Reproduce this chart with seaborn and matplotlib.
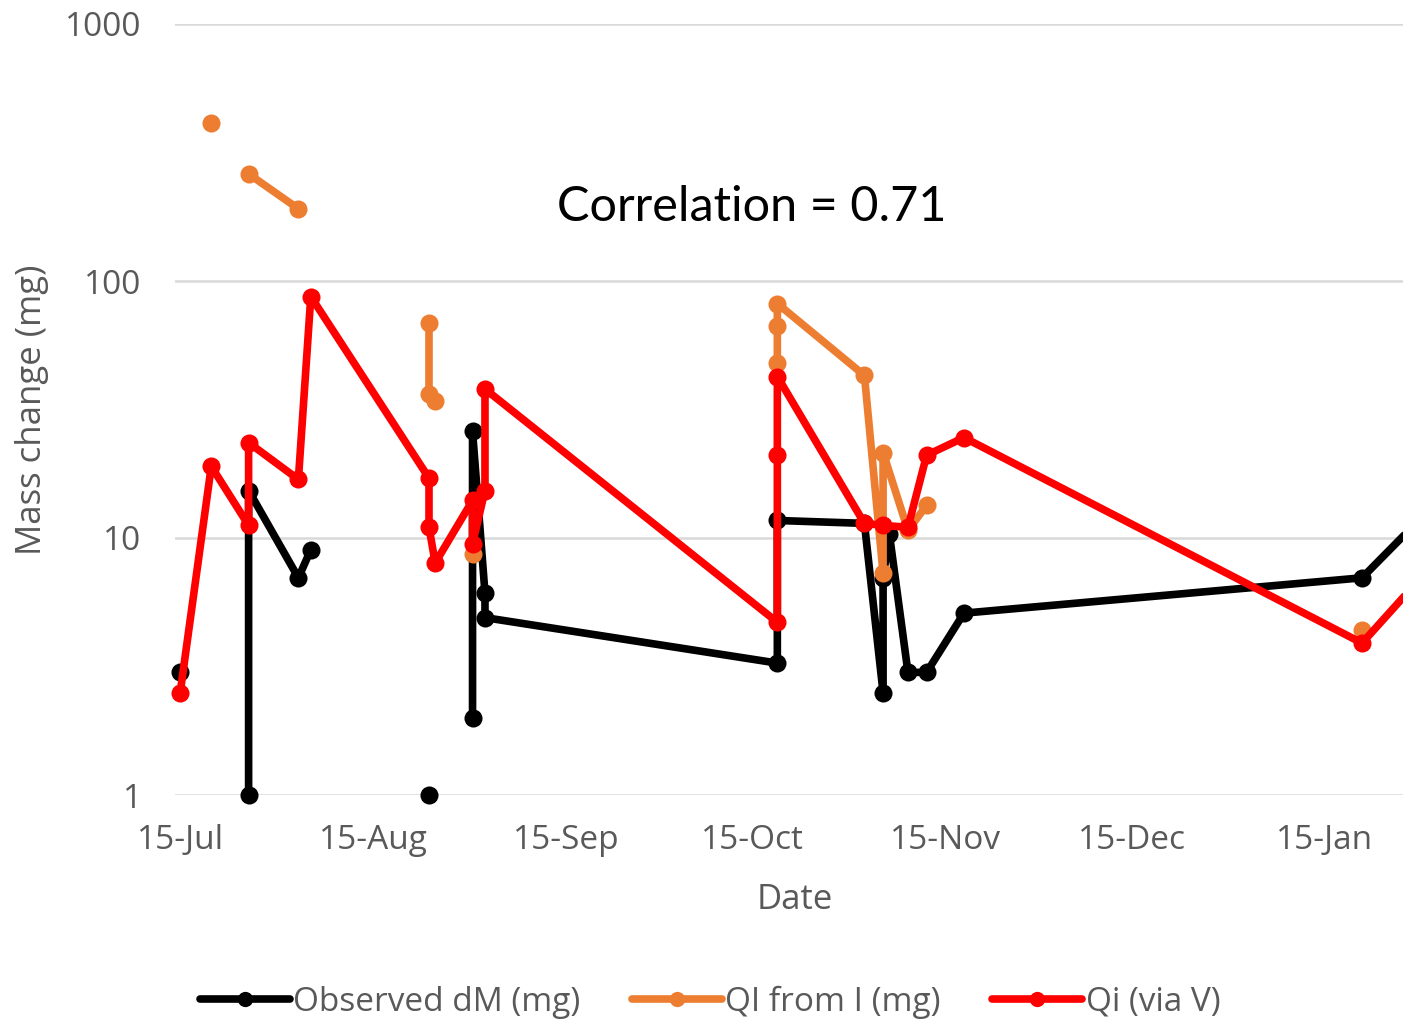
import pandas as pd
import seaborn as sns
import matplotlib.pyplot as plt
import matplotlib.dates as mdates
from matplotlib.lines import Line2D

# Observed dM (mg) - segment id splits the line where Excel left gaps
obs_dates = ['2018-07-15', '2018-07-26', '2018-07-26', '2018-08-03', '2018-08-05',
             '2018-08-24',
             '2018-08-31', '2018-08-31', '2018-09-02', '2018-09-02', '2018-10-19', '2018-10-19',
             '2018-11-02', '2018-11-05', '2018-11-05', '2018-11-06', '2018-11-09', '2018-11-12',
             '2018-11-18', '2019-01-21', '2019-01-29']
obs_vals = [3.0, 1.0, 15.3, 7.0, 9.0,
            1.0,
            2.0, 26.0, 6.1, 4.9, 3.26, 11.7,
            11.4, 2.5, 7.0, 10.4, 3.0, 3.0,
            5.1, 7.0, 11.0]
obs_seg = [0, 1, 1, 1, 1,
           2,
           3, 3, 3, 3, 3, 3,
           3, 3, 3, 3, 3, 3,
           3, 3, 3]

# QI from I (mg)
qi_dates = ['2018-07-20',
            '2018-07-26', '2018-08-03',
            '2018-08-24', '2018-08-24', '2018-08-25',
            '2018-08-31',
            '2018-10-19', '2018-10-19', '2018-10-19', '2018-11-02', '2018-11-05', '2018-11-05',
            '2018-11-09', '2018-11-12',
            '2019-01-21']
qi_vals = [413.0,
           261.0, 191.0,
           68.9, 36.4, 34.2,
           8.7,
           47.8, 67.0, 81.7, 42.9, 7.3, 21.5,
           10.7, 13.4,
           4.4]
qi_seg = [0, 1, 1, 2, 2, 2, 3, 4, 4, 4, 4, 4, 4, 4, 4, 5]

# Qi (via V)
qv_dates = ['2018-07-15', '2018-07-20', '2018-07-26', '2018-07-26', '2018-08-03', '2018-08-05',
            '2018-08-24', '2018-08-24', '2018-08-25', '2018-08-31', '2018-08-31', '2018-09-02',
            '2018-09-02', '2018-10-19', '2018-10-19', '2018-10-19', '2018-11-02', '2018-11-05',
            '2018-11-09', '2018-11-12', '2018-11-18', '2019-01-21', '2019-01-29']
qv_vals = [2.5, 19.0, 11.2, 23.5, 16.9, 87.0,
           17.1, 11.0, 8.0, 14.0, 9.5, 15.3,
           38.0, 4.7, 21.0, 42.5, 11.4, 11.2,
           11.0, 21.0, 24.6, 3.9, 6.4]
qv_seg = [0] * len(qv_vals)

labels = ['Observed dM (mg)', 'QI from I (mg)', 'Qi (via V)']
colors = ['#000000', '#ED7D31', '#FF0000']

frames = []
for name, d, v, s in [(labels[0], obs_dates, obs_vals, obs_seg),
                      (labels[1], qi_dates, qi_vals, qi_seg),
                      (labels[2], qv_dates, qv_vals, qv_seg)]:
    frames.append(pd.DataFrame({'Date': pd.to_datetime(d), 'Mass': v, 'seg': s, 'series': name}))
df = pd.concat(frames, ignore_index=True)

sns.set_style('white')
plt.rcParams['font.family'] = ['Open Sans', 'DejaVu Sans']
grey = '#595959'

fig = plt.figure(figsize=(14.03, 10.23), dpi=100)
ax = fig.add_axes([175 / 1403, 1 - 795 / 1023, 1 - 175 / 1403, (795 - 24) / 1023])

lw, ms = 5.5, 13
for name, col in zip(labels, colors):
    sub = df[df['series'] == name]
    sns.lineplot(data=sub, x='Date', y='Mass', units='seg', estimator=None, sort=False,
                 color=col, marker='o', markersize=ms, markeredgewidth=0, linewidth=lw,
                 legend=False, ax=ax, clip_on=False)

ax.set_yscale('log')
ax.set_ylim(1, 1000)
ax.set_yticks([1, 10, 100, 1000])
ax.set_yticklabels(['1', '10', '100', '1000'])
ax.minorticks_off()
ax.set_xlim(pd.Timestamp('2018-07-14 04:00'), pd.Timestamp('2019-01-27 14:00'))
ax.set_xticks(pd.to_datetime(['2018-07-15', '2018-08-15', '2018-09-15', '2018-10-15',
                              '2018-11-15', '2018-12-15', '2019-01-15']))
ax.xaxis.set_major_formatter(mdates.DateFormatter('%d-%b'))

ax.grid(axis='y', color='#D9D9D9', linewidth=1.8)
ax.grid(axis='x', visible=False)
for sp in ax.spines.values():
    sp.set_visible(False)
ax.tick_params(axis='both', length=0, labelsize=24, labelcolor=grey)
ax.tick_params(axis='y', pad=24)
ax.tick_params(axis='x', pad=21)

ax.set_xlabel('Date', fontsize=25, color=grey, va='center')
ax.set_ylabel('Mass change (mg)', fontsize=25, color=grey, va='center')
ax.xaxis.set_label_coords(0.505, -0.136)
ax.yaxis.set_label_coords(-0.1165, 0.5)

fig.text(752 / 1403, 1 - 207 / 1023, 'Correlation = 0.71', fontsize=35,
         ha='center', va='center', color='black', family=['Lato', 'DejaVu Sans'])

handles = [Line2D([], [], color=c, linewidth=lw, marker='o', markersize=ms - 2, markeredgewidth=0)
           for c in colors]
leg = fig.legend(handles, labels, loc='center', bbox_to_anchor=(710 / 1403, 1 - 1002 / 1023),
                 ncol=3, frameon=False, fontsize=24, handlelength=2.7, handletextpad=0.1,
                 columnspacing=1.55)
for t in leg.get_texts():
    t.set_color(grey)

fig.savefig('out.png', dpi=100)
